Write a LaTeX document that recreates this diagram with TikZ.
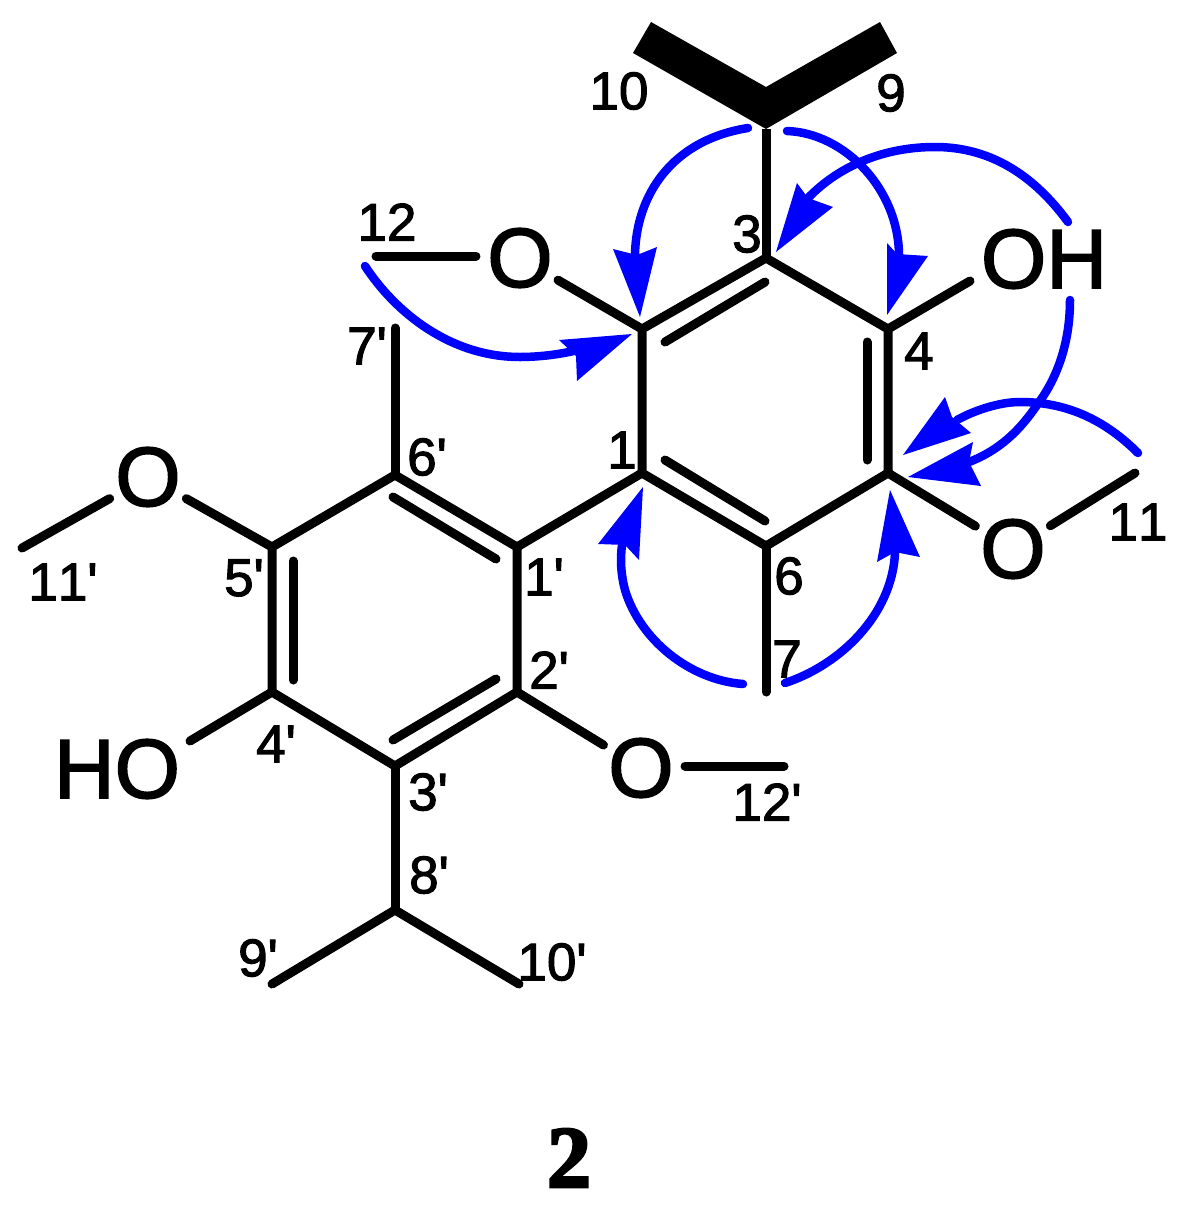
\documentclass[tikz,border=0pt]{standalone}
\usepackage{fontspec}
\setmainfont{Liberation Sans}
\newfontfamily\labfont[FakeBold=2,Kerning=Off]{Liberation Sans}
\newfontfamily\numfont[FakeBold=3]{Liberation Serif Bold}
\definecolor{hmbc}{RGB}{0,0,255}
\tikzset{
  bond/.style={line width=9pt,line cap=round,line join=miter,miter limit=10},
  hmbcarrow/.style={draw=hmbc,line width=8.5pt,line cap=round},
  hmbchead/.style={fill=hmbc},
  atomlabel/.style={font=\labfont\fontsize{84}{84}\selectfont,inner sep=0pt,outer sep=0pt},
  oatom/.style={atomlabel,circle,minimum size=88pt},
  numlabel/.style={font=\labfont\fontsize{53}{53}\selectfont,inner sep=0pt},
  cpdlabel/.style={font=\numfont\fontsize{88}{88}\selectfont,inner sep=0pt}
}
\begin{document}
\begin{tikzpicture}[x=1pt,y=-1pt]
\useasboundingbox (0,0) rectangle (1178,1208);
% ring atoms
\coordinate (C1) at (642,473);
\coordinate (C2) at (642,329);
\coordinate (C3) at (766,258);
\coordinate (C4) at (888,329);
\coordinate (C5) at (888,473);
\coordinate (C6) at (766,546);
\coordinate (C1p) at (517,547);
\coordinate (C2p) at (517,692);
\coordinate (C3p) at (395,766);
\coordinate (C4p) at (272,692);
\coordinate (C5p) at (272,547);
\coordinate (C6p) at (395,475);
% substituents
\coordinate (C7) at (766,692);
\coordinate (C7p) at (395,328);
\coordinate (C8) at (766,129);
\coordinate (C8p) at (395,910);
\coordinate (C9p) at (272,984);
\coordinate (C10p) at (519,984);
\coordinate (C11) at (1135,473);
\coordinate (C11p) at (22,548);
\coordinate (C12) at (376,256);
\coordinate (C12p) at (784,766);
\coordinate (OHb) at (970,281);
\coordinate (HOb) at (190,741);
% oxygen and hydroxyl labels
\node[oatom] (O2) at (520,258) {O};
\node[oatom] (O5) at (1013,549) {O};
\node[oatom] (O5p) at (148,477) {O};
\node[oatom] (O2p) at (641,768) {O};
\node[atomlabel] (OH) at (1044,259) {OH};
\node[atomlabel] (HO) at (117,769) {HO};
% isopropyl wedges
\fill (766,87) -- (651,22) -- (633,53) -- (C8) -- (897,53) -- (880,22) -- cycle;
% rings
\draw[bond] (C1) -- (C2) -- (C3) -- (C4) -- (C5) -- (C6) -- cycle;
\draw[bond] (C1p) -- (C2p) -- (C3p) -- (C4p) -- (C5p) -- (C6p) -- cycle;
% inner double bond lines
\coordinate (d23a) at (665,342); \coordinate (d23b) at (765,282);
\coordinate (d45a) at (867,342); \coordinate (d45b) at (867,460);
\coordinate (d16a) at (665,460); \coordinate (d16b) at (765,521);
\coordinate (d16pa) at (393,497); \coordinate (d16pb) at (496,559);
\coordinate (d45pa) at (293,561); \coordinate (d45pb) at (293,680);
\coordinate (d23pa) at (393,740); \coordinate (d23pb) at (496,679);
\draw[bond] (d23a) -- (d23b);
\draw[bond] (d45a) -- (d45b);
\draw[bond] (d16a) -- (d16b);
\draw[bond] (d16pa) -- (d16pb);
\draw[bond] (d45pa) -- (d45pb);
\draw[bond] (d23pa) -- (d23pb);
% other bonds
\draw[bond] (C1) -- (C1p);
\draw[bond] (C6) -- (C7);
\draw[bond] (C6p) -- (C7p);
\draw[line width=9pt] (C3) -- (C8);
\draw[bond] (C2) -- (O2);
\draw[bond] (O2.west |- C12) -- (C12);
\draw[bond] (C4) -- (OHb);
\draw[bond] (C5) -- (O5);
\draw[bond] (O5) -- (C11);
\draw[bond] (C5p) -- (O5p);
\draw[bond] (O5p) -- (C11p);
\draw[bond] (C4p) -- (HOb);
\draw[bond] (C2p) -- (O2p);
\draw[bond] (O2p.east |- C12p) -- (C12p);
\draw[bond] (C3p) -- (C8p);
\draw[bond] (C9p) -- (C8p) -- (C10p);
% number labels
\node[numlabel] (n10) at (619,91) {10};
\node[numlabel] (n9) at (891,93) {9};
\node[numlabel] (n12) at (387,222) {12};
\node[numlabel] (n3) at (747,234) {3};
\node[numlabel] (n4) at (919,351) {4};
\node[numlabel] (n7p) at (367,346) {7'};
\node[numlabel] (n6p) at (427,457) {6'};
\node[numlabel] (n1) at (622,450) {1};
\node[numlabel] (n1p) at (544,577) {1'};
\node[numlabel] (n6) at (789,576) {6};
\node[numlabel] (n7) at (787,659) {7};
\node[numlabel] (n11) at (1138,522) {11};
\node[numlabel] (n11p) at (63,582) {11'};
\node[numlabel] (n5p) at (244,578) {5'};
\node[numlabel] (n2p) at (549,670) {2'};
\node[numlabel] (n4p) at (276,744) {4'};
\node[numlabel] (n3p) at (428,792) {3'};
\node[numlabel] (n8p) at (429,875) {8'};
\node[numlabel] (n9p) at (258,958) {9'};
\node[numlabel] (n10p) at (552,962) {10'};
\node[numlabel] (n12p) at (767,802) {12'};
\node[cpdlabel] (cpd) at (569,1158) {2};
% HMBC arrow ends: start, middle, end of shaft
\coordinate (aS) at (748,128); \coordinate (aT) at (640,317); \coordinate (aN) at (635,255);
\coordinate (bS) at (787,131); \coordinate (bT) at (887,315); \coordinate (bN) at (899,258);
\coordinate (cS) at (1068,222); \coordinate (cM) at (935,147); \coordinate (cT) at (776,252); \coordinate (cN) at (808,198);
\coordinate (dS) at (1070,300); \coordinate (dM) at (1037,405); \coordinate (dT) at (908,477); \coordinate (dN) at (969,462);
\coordinate (eS) at (1138,453); \coordinate (eM) at (1020,402); \coordinate (eT) at (903,455); \coordinate (eN) at (957,420);
\coordinate (fS) at (365,266); \coordinate (fM) at (520,357); \coordinate (fT) at (632,334); \coordinate (fN) at (585,348);
\coordinate (gS) at (743,684); \coordinate (gM) at (625,590); \coordinate (gT) at (643,487); \coordinate (gN) at (622,545);
\coordinate (hS) at (785,683); \coordinate (hT) at (890,490); \coordinate (hN) at (895,553);
% HMBC arrow shafts
\draw[hmbcarrow] (aS) .. controls (672,140) and (636,195) .. (aN);
\draw[hmbcarrow] (bS) .. controls (845,133) and (900,190) .. (bN);
\draw[hmbcarrow] (cS) .. controls (1030,170) and (985,147) .. (cM) .. controls (885,147) and (840,165) .. (cN);
\draw[hmbcarrow] (dS) .. controls (1070,345) and (1056,380) .. (dM) .. controls (1020,430) and (1000,450) .. (dN);
\draw[hmbcarrow] (eS) .. controls (1100,415) and (1060,402) .. (eM) .. controls (1000,402) and (975,410) .. (eN);
\draw[hmbcarrow] (fS) .. controls (395,312) and (450,357) .. (fM) .. controls (540,357) and (565,354) .. (fN);
\draw[hmbcarrow] (gS) .. controls (690,680) and (640,640) .. (gM) .. controls (621,575) and (620,560) .. (gN);
\draw[hmbcarrow] (hS) .. controls (840,665) and (892,615) .. (hN);
% HMBC arrowheads
\fill[hmbchead] (aT) -- (613,249) -- (637,255) -- (657,247) -- cycle;
\fill[hmbchead] (bT) -- (887,243) -- (897,254) -- (928,256) -- cycle;
\fill[hmbchead] (cT) -- (797,183) -- (808,198) -- (833,207) -- cycle;
\fill[hmbchead] (dT) -- (973,442) -- (969,462) -- (981,486) -- cycle;
\fill[hmbchead] (eT) -- (945,397) -- (952,417) -- (971,433) -- cycle;
\fill[hmbchead] (fT) -- (559,340) -- (576,356) -- (577,381) -- cycle;
\fill[hmbchead] (gT) -- (598,544) -- (625,545) -- (639,560) -- cycle;
\fill[hmbchead] (hT) -- (877,562) -- (895,552) -- (920,557) -- cycle;
\end{tikzpicture}
\end{document}
